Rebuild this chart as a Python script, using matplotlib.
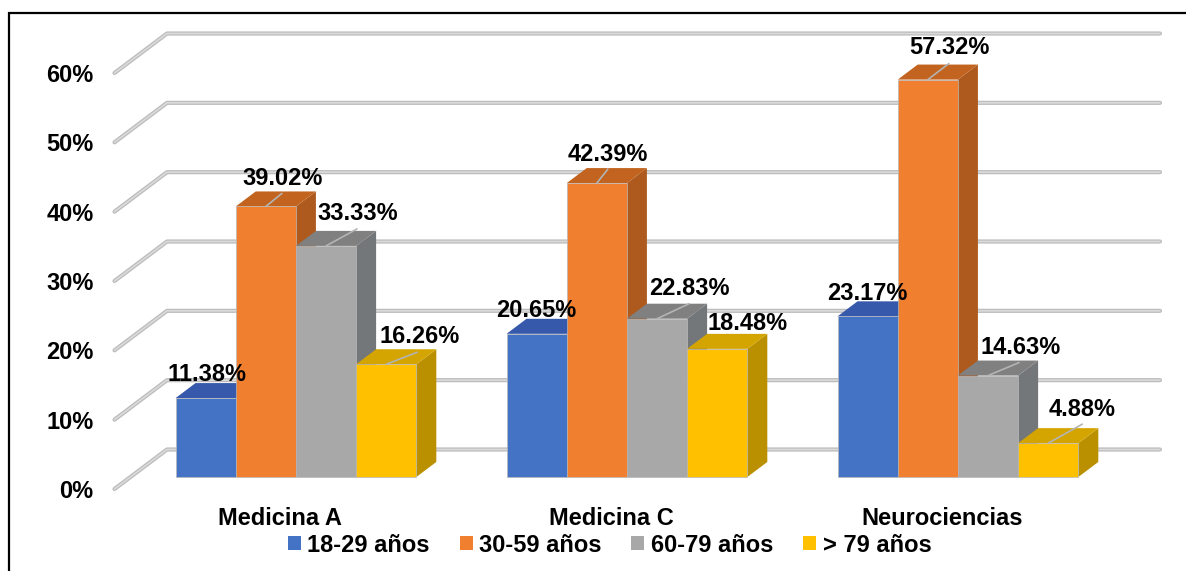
import matplotlib
matplotlib.use("Agg")
import matplotlib.pyplot as plt
from matplotlib.lines import Line2D
from matplotlib.patches import Patch

plt.rcParams['font.family'] = ['Liberation Sans', 'DejaVu Sans']
plt.rcParams['font.weight'] = 'bold'

services = ["Medicina A", "Medicina C", "Neurociencias"]
age_groups = ["18-29 años", "30-59 años", "60-79 años", "> 79 años"]
age_18_29 = [11.38, 20.65, 23.17]
age_30_59 = [39.02, 42.39, 57.32]
age_60_79 = [33.33, 22.83, 14.63]
age_over_79 = [16.26, 18.48, 4.88]
y_ticks = [0, 10, 20, 30, 40, 50, 60]

series = [age_18_29, age_30_59, age_60_79, age_over_79]
front_colors = ['#4472C4', '#F07F30', '#A8A8A8', '#FFC000']
side_colors = ['#2F5597', '#AE5A1E', '#74777A', '#BA9000']
top_colors = ['#3659AC', '#C2641F', '#808080', '#D4A400']

# label placement in pixels from the middle of each bar's top front edge,
# rows follow the series, columns follow the services
label_offsets = [
    [(1, 24), (0, 23), (0, 23)],
    [(17, 28), (11, 29), (22, 32)],
    [(32, 32), (32, 30), (33, 28)],
    [(33, 28), (30, 25), (34, 34)],
]
leader_offsets = [
    [None, None, None],
    [(16, 13), (11, 14), (21, 16)],
    [(31, 17), (32, 15), (31, 13)],
    [(31, 12), None, (34, 19)],
]

fig = plt.figure(figsize=(11.86, 5.71), dpi=100)
ax = fig.add_axes([114.5 / 1186, 82 / 571, 993 / 1186, 416 / 571])
ax.set_xlim(-0.5, 2.5)
ax.set_ylim(0, 60)
for s in ax.spines.values():
    s.set_visible(False)

floor_dx = 52.5 / 331
floor_dy = 39.5 * 60 / 416
bar_w = 60.2 / 331
d_front = 0.304
d_back = 0.684


def project(x, y, depth):
    return x + depth * floor_dx, y + depth * floor_dy


# gridlines run up the side wall and then along the back wall
for t in y_ticks:
    bx, by = project(-0.5, t, 1)
    ex, ey = project(2.5, t, 1)
    for lw, col in [(3.0, '#BCBCBC'), (1.2, '#DADADA')]:
        ax.plot([-0.5, bx, ex], [t, by, ey], color=col, lw=lw, clip_on=False,
                solid_joinstyle='round', solid_capstyle='round', zorder=1)

# bars are painted left to right so each front hides its neighbour's side
for j in range(len(services)):
    for i, vals in enumerate(series):
        v = vals[j]
        x0 = j + (i - 2) * bar_w
        x1 = x0 + bar_w
        corners = [project(x0, 0, d_front), project(x1, 0, d_front),
                   project(x1, v, d_front), project(x0, v, d_front)]
        side = [project(x1, 0, d_front), project(x1, 0, d_back),
                project(x1, v, d_back), project(x1, v, d_front)]
        top = [project(x0, v, d_front), project(x1, v, d_front),
               project(x1, v, d_back), project(x0, v, d_back)]
        z = 2 + j + i * 0.1
        ax.fill(*zip(*side), color=side_colors[i], lw=0, zorder=z, clip_on=False)
        ax.fill(*zip(*top), color=top_colors[i], lw=0, zorder=z, clip_on=False)
        ax.fill(*zip(*corners), facecolor=front_colors[i], edgecolor='#B8B8B8',
                lw=0.5, zorder=z, clip_on=False)

# value labels and their leader lines go on top of all the bars
for j in range(len(services)):
    for i, vals in enumerate(series):
        v = vals[j]
        anchor = project(j + (i - 1.5) * bar_w, v, d_front)
        if leader_offsets[i][j] is not None:
            ax.annotate('', xy=anchor, xytext=leader_offsets[i][j],
                        textcoords='offset pixels', zorder=10,
                        arrowprops=dict(arrowstyle='-', color='#B4B4B4', lw=1.2,
                                        shrinkA=0, shrinkB=0))
        ax.annotate(f"{v:.2f}%", xy=anchor, xytext=label_offsets[i][j],
                    textcoords='offset pixels', ha='center', va='center',
                    fontsize=17, fontweight='bold', color='black', zorder=11)

ax.set_xticks(range(len(services)))
ax.set_xticklabels(services, fontsize=17, fontweight='bold')
ax.set_yticks(y_ticks)
ax.set_yticklabels([f"{t}%" for t in y_ticks], fontsize=17, fontweight='bold')
ax.tick_params(axis='x', length=0, pad=13)
ax.tick_params(axis='y', length=0, pad=15)

handles = [Patch(facecolor=c, edgecolor='none') for c in front_colors]
fig.legend(handles, age_groups, loc='center', bbox_to_anchor=(609.5 / 1186, 1 - 545 / 571),
           ncol=4, frameon=False, fontsize=17, borderpad=0, borderaxespad=0,
           handlelength=0.55, handleheight=0.55, handletextpad=0.27, columnspacing=1.27)

# black frame: only the top and left edges fall inside the figure
fig.add_artist(Line2D([9 / 1186, 9 / 1186, 1], [0, 1 - 13 / 571, 1 - 13 / 571],
                      color='black', lw=1.6, solid_joinstyle='miter'))

fig.savefig("out.png", dpi=100)
